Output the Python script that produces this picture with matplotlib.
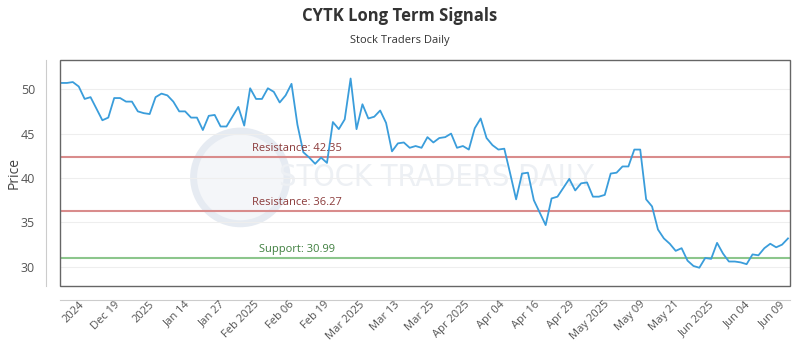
import numpy as np
import matplotlib
matplotlib.use("Agg")
import matplotlib.pyplot as plt
import matplotlib.transforms as mtransforms
from matplotlib.patches import Rectangle, Ellipse

plt.rcParams['font.family'] = ['Open Sans', 'DejaVu Sans']

# closing prices (one per trading day)
prices = [
    50.7, 50.7, 50.8, 50.3, 48.9, 49.1, 47.8, 46.5, 46.8, 49.0,
    49.0, 48.6, 48.6, 47.5, 47.3, 47.2, 49.1, 49.5, 49.3, 48.6,
    47.5, 47.5, 46.8, 46.8, 45.4, 47.0, 47.1, 45.8, 45.8, 46.9,
    48.0, 45.9, 50.1, 48.9, 48.9, 50.1, 49.7, 48.5, 49.3, 50.6,
    46.0, 42.9, 42.3, 41.6, 42.3, 41.7, 46.3, 45.5, 46.6, 51.2,
    45.5, 48.3, 46.7, 46.9, 47.6, 46.2, 43.0, 43.9, 44.0, 43.4,
    43.6, 43.4, 44.6, 44.0, 44.5, 44.6, 45.0, 43.4, 43.6, 43.2,
    45.6, 46.7, 44.5, 43.7, 43.2, 43.3, 40.5, 37.6, 40.5, 40.6,
    37.5, 36.1, 34.7, 37.7, 37.9, 38.9, 39.9, 38.6, 39.4, 39.5,
    37.9, 37.9, 38.1, 40.5, 40.6, 41.3, 41.3, 43.2, 43.2, 37.6,
    36.8, 34.2, 33.2, 32.6, 31.8, 32.1, 30.7, 30.1, 29.9, 31.0,
    30.9, 32.7, 31.5, 30.6, 30.6, 30.5, 30.3, 31.4, 31.3, 32.1,
    32.6, 32.2, 32.5, 33.2,
]

tick_labels = [
    "2024", "Dec 19", "2025", "Jan 14", "Jan 27", "Feb 2025", "Feb 06",
    "Feb 19", "Mar 2025", "Mar 13", "Mar 25", "Apr 2025", "Apr 04",
    "Apr 16", "Apr 29", "May 2025", "May 09", "May 21", "Jun 2025",
    "Jun 04", "Jun 09",
]

resistance_levels = [42.35, 36.27]
support_level = 30.99

x = np.arange(len(prices))

fig = plt.figure(figsize=(8, 3.5), dpi=100)
ax = fig.add_axes([0.075, 0.183, 0.9125, 0.646])

# faint watermark (logo ring + name)
ax.add_patch(Ellipse((0.247, 0.48), 0.128, 0.41, transform=ax.transAxes,
                     facecolor='#f4f6f9', edgecolor='#e6ebf2', linewidth=5,
                     zorder=0))
ax.text(0.515, 0.48, "STOCK TRADERS DAILY", transform=ax.transAxes,
        ha='center', va='center', fontsize=22, color='#edf0f4',
        family='DejaVu Sans', fontstretch='condensed', zorder=0.5)

ax.plot(x, prices, color='#3a9ddb', linewidth=1.3, zorder=3)

for lvl in resistance_levels:
    ax.axhline(lvl, color='#d98c8c', linewidth=1.5, zorder=2)
    ax.text(40, lvl + 0.35, f"Resistance: {lvl:.2f}", ha='center', va='bottom',
            fontsize=8, color='#8b3a3a', zorder=4)
ax.axhline(support_level, color='#8cc68c', linewidth=1.5, zorder=2)
ax.text(40, support_level + 0.35, f"Support: {support_level:.2f}", ha='center',
        va='bottom', fontsize=8, color='#3f7f3f', zorder=4)

ax.set_xlim(-0.17, len(prices) - 1 + 0.34)
ax.set_ylim(27.85, 53.3)
ax.set_yticks([30, 35, 40, 45, 50])
ax.yaxis.grid(True, color='#eeeeee', linewidth=0.8)
ax.set_axisbelow(True)

# rotated date labels, drawn as plain texts below the offset bottom line
tick_pos = np.linspace(3.7, 122.2, len(tick_labels))
ax.set_xticks(tick_pos)
ax.set_xticklabels([])
lab_trans = mtransforms.blended_transform_factory(ax.transData, ax.transAxes) + \
    mtransforms.ScaledTranslation(0, -17 / 100, fig.dpi_scale_trans)
for pos, lab in zip(tick_pos, tick_labels):
    ax.text(pos, 0, lab, transform=lab_trans, rotation=45, ha='right',
            va='center', rotation_mode='anchor', fontsize=8, color='#555555')

ax.tick_params(axis='both', length=0, colors='#555555')
ax.tick_params(axis='y', labelsize=9, pad=8)

for side in ['top', 'right']:
    ax.spines[side].set_visible(False)
for side in ['left', 'bottom']:
    ax.spines[side].set_position(('outward', 10))
    ax.spines[side].set_color('#cccccc')
ax.add_patch(Rectangle((0, 0), 1, 1, transform=ax.transAxes, fill=False,
                       edgecolor='#666666', linewidth=1.0, zorder=5, clip_on=False))

ax.set_ylabel("Price", fontsize=10, color='#444444')
ax.yaxis.set_label_coords(-0.052, 0.5)

fig.text(0.5, 0.955, "CYTK Long Term Signals", ha='center', va='center',
         fontsize=12, fontweight='bold', color='#333333')
fig.text(0.5, 0.885, "Stock Traders Daily", ha='center', va='center',
         fontsize=8, color='#333333')

fig.savefig("out.png", dpi=100)
